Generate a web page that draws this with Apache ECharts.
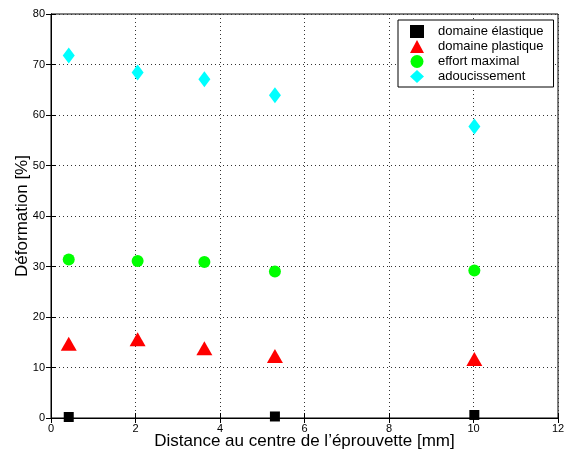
<!DOCTYPE html>
<html><head><meta charset="utf-8">
<script src="https://cdn.jsdelivr.net/npm/echarts@6/dist/echarts.min.js"></script>
<style>html,body{margin:0;padding:0;background:#fff}#c{width:566px;height:455px}</style>
</head><body><div id="c"></div>
<script>
const xPos = [0.42, 2.05, 3.63, 5.3, 10.02];
const xElast = [0.42, 5.3, 10.02];
const elastique = [0.2, 0.3, 0.6];
const plastique = [14.7, 15.6, 13.8, 12.3, 11.7];
const effortMax = [31.4, 31.1, 30.9, 29.0, 29.2];
const adoucissement = [71.8, 68.4, 67.1, 63.9, 57.7];
const seriesNames = ['domaine élastique','domaine plastique','effort maximal','adoucissement'];
const xTicks = [0,2,4,6,8,10,12];
const yTicks = [0,10,20,30,40,50,60,70,80];

const font = 'Liberation Sans, Arial, Helvetica, sans-serif';
const pair = (xs, ys) => xs.map((x,i)=>[x, ys[i]]);
const chart = echarts.init(document.getElementById('c'));
const gridLine = {show:true, lineStyle:{color:'#333', type:[1,3], width:1}};
chart.setOption({
  animation:false,
  grid:{left:51, right:8, top:14, bottom:37, show:true, borderColor:'#000', borderWidth:1, outerBoundsMode:'none', containLabel:false},
  xAxis:[{type:'value', min:0, max:12, interval:2, position:'bottom',
    name:'Distance au centre de l\u2019éprouvette [mm]', nameLocation:'middle', nameGap:15, nameMoveOverlap:false,
    nameTextStyle:{fontFamily:font, fontSize:17, color:'#000'},
    axisLine:{show:true, onZero:false, lineStyle:{color:'#000', width:1}},
    axisTick:{show:true, inside:true, length:5, lineStyle:{color:'#000'}},
    axisLabel:{fontFamily:font, fontSize:11, color:'#000', margin:5, formatter:v=>String(v)},
    splitLine:gridLine},
   {type:'value', min:0, max:12, interval:2, position:'top',
    axisLine:{show:true, lineStyle:{color:'#000'}},
    axisTick:{show:true, inside:true, length:5, lineStyle:{color:'#000'}},
    axisLabel:{show:false}, splitLine:{show:false}}],
  yAxis:[{type:'value', min:0, max:80, interval:10, position:'left',
    name:'Déformation [%]', nameLocation:'middle', nameGap:20, nameRotate:90, nameMoveOverlap:false,
    nameTextStyle:{fontFamily:font, fontSize:17, color:'#000'},
    axisLine:{show:true, onZero:false, lineStyle:{color:'#000', width:1}},
    axisTick:{show:true, inside:true, length:5, lineStyle:{color:'#000'}},
    axisLabel:{fontFamily:font, fontSize:11, color:'#000', margin:6},
    splitLine:gridLine},
   {type:'value', min:0, max:80, interval:10, position:'right',
    axisLine:{show:true, lineStyle:{color:'#000'}},
    axisTick:{show:true, inside:true, length:5, lineStyle:{color:'#000'}},
    axisLabel:{show:false}, splitLine:{show:false}}],
  legend:{left:398, top:20, orient:'vertical', itemGap:2, itemWidth:14, itemHeight:13,
    backgroundColor:'#fff', borderColor:'#000', borderWidth:1, padding:[5,10,4,12],
    textStyle:{fontFamily:font, fontSize:13, color:'#000', padding:[0,0,0,9]},
    data:[{name:seriesNames[0], icon:'rect'},{name:seriesNames[1], icon:'triangle'},
          {name:seriesNames[2], icon:'circle'},{name:seriesNames[3], icon:'diamond'}]},
  series:[
    {name:seriesNames[0], type:'scatter', data:pair(xElast, elastique), symbol:'rect', symbolSize:10, itemStyle:{color:'#000', opacity:1}, z:5},
    {name:seriesNames[1], type:'scatter', data:pair(xPos, plastique), symbol:'triangle', symbolSize:[16,14], itemStyle:{color:'#ff0000', opacity:1}},
    {name:seriesNames[2], type:'scatter', data:pair(xPos, effortMax), symbol:'circle', symbolSize:12, itemStyle:{color:'#00ff00', opacity:1}},
    {name:seriesNames[3], type:'scatter', data:pair(xPos, adoucissement), symbol:'diamond', symbolSize:[12,16], itemStyle:{color:'#00ffff', opacity:1}}
  ]
});
</script></body></html>
